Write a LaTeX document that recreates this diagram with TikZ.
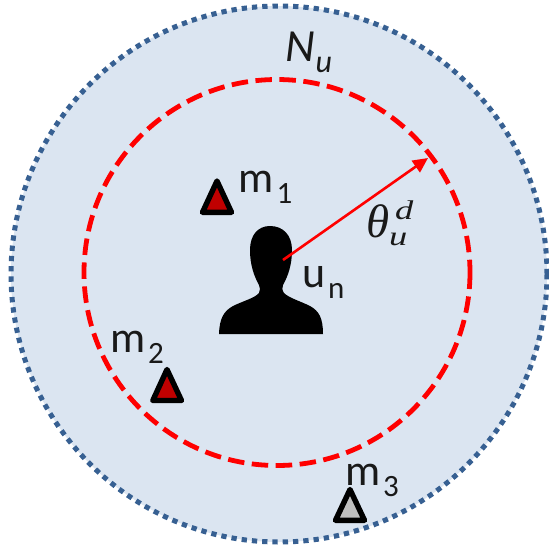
\documentclass[tikz,border=0pt]{standalone}
\usepackage{fontspec}
\usepackage{graphicx}
\setmainfont{Carlito}
\newfontfamily\symfont{Liberation Serif}
\usetikzlibrary{arrows.meta}
\definecolor{bgblue}{HTML}{DBE5F1}
\definecolor{dotblue}{HTML}{376092}
\definecolor{darkred}{HTML}{C00000}
\definecolor{tgray}{HTML}{BFBFBF}
\newcommand{\subtxt}[1]{\kern3pt\raisebox{-11.5pt}{\fontsize{31}{31}\selectfont #1}}
\newcommand{\widesym}[1]{\scalebox{1.35}[1]{\fontsize{27}{27}\selectfont #1}}
\tikzset{
  x=1pt,y=-1pt,
  lbl/.style={font=\fontsize{44}{44}\selectfont,inner sep=0pt,outer sep=0pt,anchor=base west,text=black!90},
  tri/.style={draw=black,line width=5.4pt,line join=round},
}
\begin{document}
\begin{tikzpicture}
\useasboundingbox (0,0) rectangle (549,547);
\path[fill=bgblue] (279,274) circle[radius=268];
\draw[dotblue,line width=5pt,dash pattern=on 5.3pt off 5pt] (279,274) circle[radius=268];
\draw[red,line width=4.8pt,dash pattern=on 16.5pt off 7.5pt] (277,272.5) circle[radius=193];
% person
\fill[black] (219,334)
  .. controls (219.5,318) and (224,311) .. (233,306)
  .. controls (243,301) and (255,298) .. (259,293)
  .. controls (260.5,290) and (260,288) .. (259,285)
  .. controls (254,276) and (250,265) .. (250,250)
  .. controls (250,235) and (258,226) .. (270,226)
  .. controls (283,226) and (292,235) .. (292,250)
  .. controls (292,265) and (288,276) .. (283,285)
  .. controls (282,288) and (282,290) .. (284,293)
  .. controls (289,298) and (300,301) .. (310,306)
  .. controls (319,311) and (323,318) .. (323,334) -- cycle;
% triangles
\draw[tri,fill=darkred] (217,181) -- (231.5,212.3) -- (202.5,212.3) -- cycle;
\draw[tri,fill=darkred] (167,369.5) -- (181.5,400.5) -- (152.8,400.5) -- cycle;
\draw[tri,fill=tgray] (350,489.5) -- (364.5,520.3) -- (335.5,520.3) -- cycle;
% labels
\node[lbl,font=\fontsize{46}{46}\selectfont\itshape] (nu) at (285,61) {N\kern1pt\raisebox{-11pt}{\fontsize{32}{32}\selectfont u}};
\node[lbl] (m1) at (238.5,192) {m\subtxt{1}};
\node[lbl] (m2) at (110,352) {m\subtxt{2}};
\node[lbl] (m3) at (345,485) {m\subtxt{3}};
\node[lbl] (un) at (302,287) {u\subtxt{n}};
\node[lbl,font=\fontsize{47}{47}\selectfont\symfont\itshape] (theta) at (366,237) {θ\rlap{\kern6pt\raisebox{18pt}{\widesym{d}}}\raisebox{-8pt}{\widesym{u}}};
\coordinate (from) at (283,260);
\coordinate (to) at (428,158);
\draw[red,line width=2.6pt,-{Triangle[length=15pt,width=14pt]}] (from) -- (to);
\end{tikzpicture}
\end{document}
